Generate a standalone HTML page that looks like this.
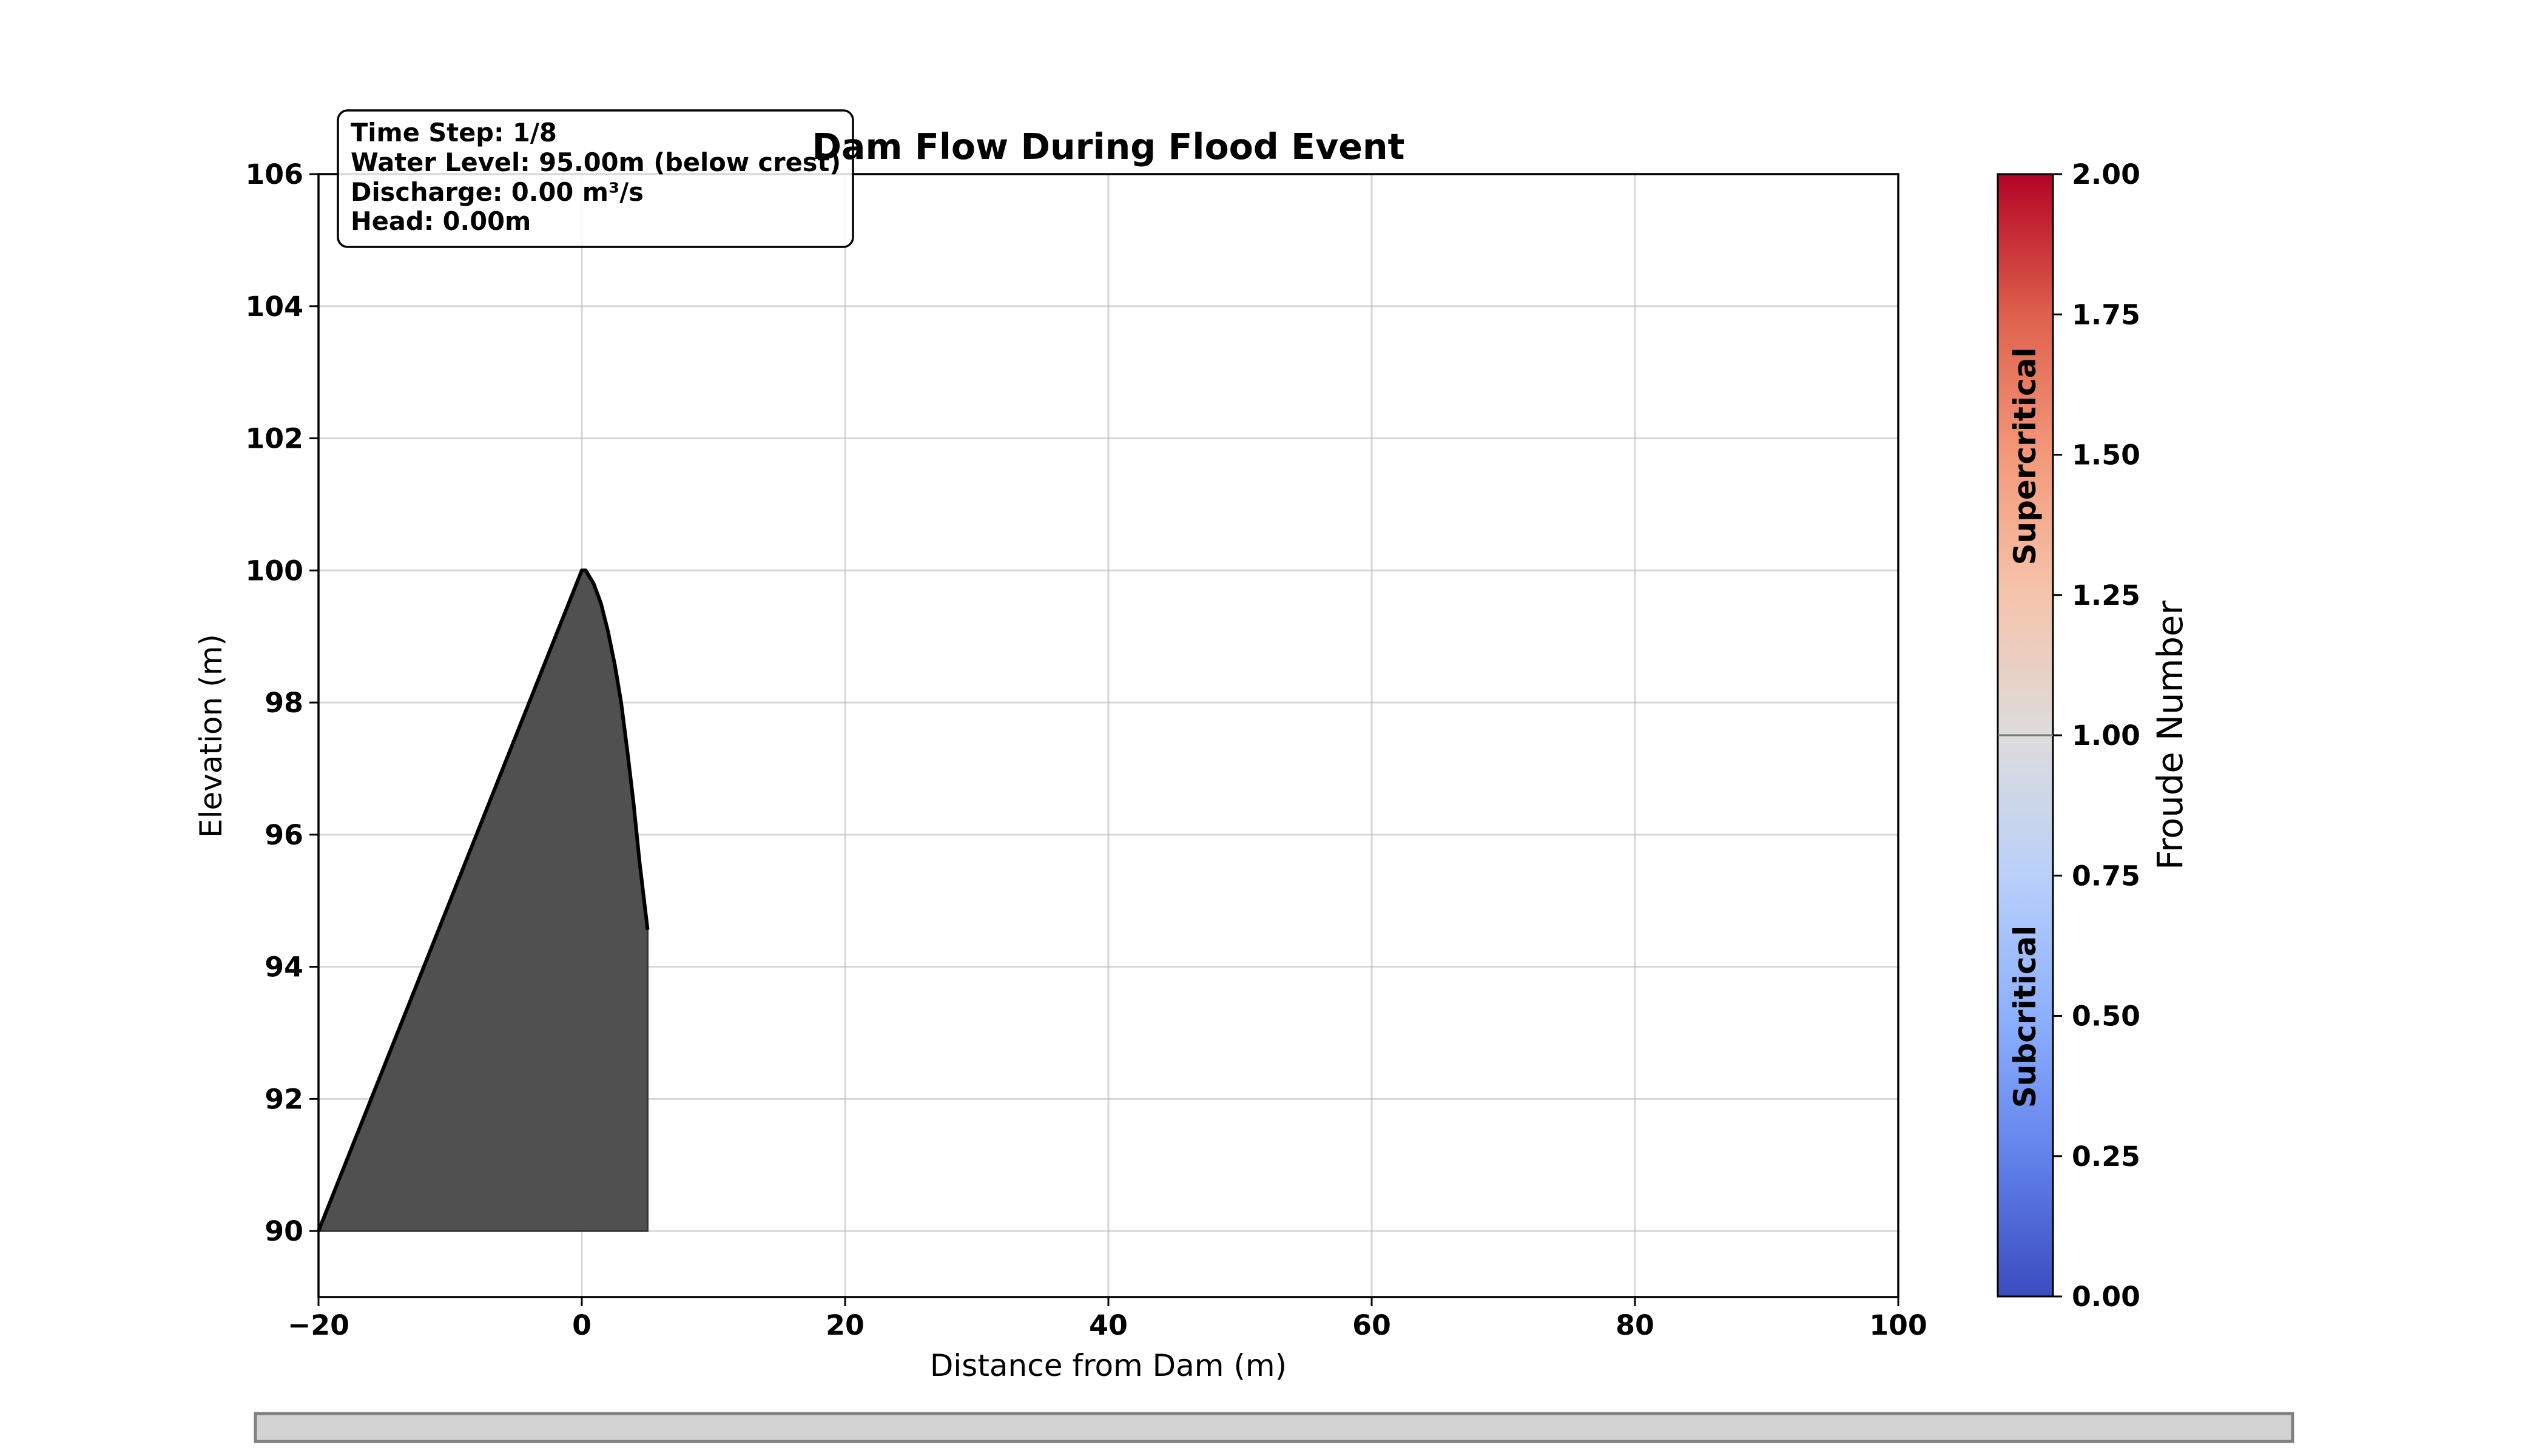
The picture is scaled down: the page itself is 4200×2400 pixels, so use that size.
<!DOCTYPE html>
<html><head><meta charset="utf-8"><style>
html,body{margin:0;padding:0;background:#fff}
svg{display:block}
text{font-family:"DejaVu Sans","Liberation Sans",sans-serif}
</style></head><body>
<svg id="chart" width="4200" height="2400" viewBox="0 0 4200 2400" xmlns="http://www.w3.org/2000/svg">
<defs>
<linearGradient id="cw" x1="0" y1="1" x2="0" y2="0">
<stop offset="0" stop-color="#3b4cc0"/><stop offset="0.125" stop-color="#6282ea"/>
<stop offset="0.25" stop-color="#8db0fe"/><stop offset="0.375" stop-color="#b9d0f9"/>
<stop offset="0.5" stop-color="#dddcdc"/><stop offset="0.625" stop-color="#f5c4ac"/>
<stop offset="0.75" stop-color="#f4987a"/><stop offset="0.875" stop-color="#de604d"/>
<stop offset="1" stop-color="#b40426"/>
</linearGradient>
</defs>
<g id="grid"></g>
<g id="marks"></g>
<g id="axes"></g>
<text x="1827" y="2268" font-size="50" text-anchor="middle">Distance from Dam (m)</text>
<text transform="translate(365,1213) rotate(-90)" font-size="50" text-anchor="middle">Elevation (m)</text>
<g>
<rect x="557" y="182" width="849" height="225" rx="16" fill="#fff" fill-opacity="0.85" stroke="#000" stroke-width="3.5"/>
<text x="578" y="233" font-size="41.5" font-weight="bold">Time Step: 1/8</text>
<text x="578" y="282" font-size="41.5" font-weight="bold">Water Level: 95.00m (below crest)</text>
<text x="578" y="331" font-size="41.5" font-weight="bold">Discharge: 0.00 m³/s</text>
<text x="578" y="379" font-size="41.5" font-weight="bold">Head: 0.00m</text>
</g>
<text x="1827" y="262" font-size="58.5" font-weight="bold" text-anchor="middle">Dam Flow During Flood Event</text>
<g>
<rect x="3293" y="287" width="91" height="1850" fill="url(#cw)" stroke="#000" stroke-width="3"/>
<line x1="3293" x2="3384" y1="1212" y2="1212" stroke="#777" stroke-width="3"/>
<text transform="translate(3355,752) rotate(-90)" font-size="50" font-weight="bold" text-anchor="middle">Supercritical</text>
<text transform="translate(3355,1676) rotate(-90)" font-size="50" font-weight="bold" text-anchor="middle">Subcritical</text>
<g id="cbticks"></g>
<text transform="translate(3597,1212) rotate(-90)" font-size="57.5" text-anchor="middle">Froude Number</text>
</g>
<rect x="421" y="2330" width="3358" height="46" fill="#d3d3d3" stroke="#808080" stroke-width="5"/>
</svg>
<script>
const xTicks = [-20, 0, 20, 40, 60, 80, 100];
const yTicks = [90, 92, 94, 96, 98, 100, 102, 104, 106];
const cbTicks = [0, 0.25, 0.5, 0.75, 1.0, 1.25, 1.5, 1.75, 2.0];
const damX = [-20, 0, 0.3, 0.9, 1.46, 2.0, 2.53, 2.99, 3.46, 3.92, 4.38, 5.0];
const damY = [90, 100, 100, 99.8, 99.5, 99.07, 98.55, 98.0, 97.27, 96.5, 95.6, 94.56];
const baseY = 90;

const L=525,R=3129,T=287,B=2138, XMIN=-20,XMAX=100,YMIN=89,YMAX=106;
const sx=v=>L+(v-XMIN)/(XMAX-XMIN)*(R-L);
const sy=v=>B-(v-YMIN)/(YMAX-YMIN)*(B-T);
const NS='http://www.w3.org/2000/svg';
function mk(tag,attrs,parent,txt){const e=document.createElementNS(NS,tag);for(const k in attrs)e.setAttribute(k,attrs[k]);if(txt!==undefined)e.textContent=txt;parent.appendChild(e);return e;}
const grid=document.getElementById('grid'),axes=document.getElementById('axes'),marks=document.getElementById('marks');
xTicks.forEach(t=>{
  const g=mk('line',{x1:sx(t),x2:sx(t),y1:T,y2:B,stroke:'#b0b0b0','stroke-opacity':0.5,'stroke-width':3},grid);
  
  
  mk('line',{x1:sx(t),x2:sx(t),y1:B,y2:B+15,stroke:'#000','stroke-width':3},axes);
  const lb=mk('text',{x:sx(t),y:B+62,'font-size':45.8,'font-weight':'bold','text-anchor':'middle'},axes,t<0?'\u2212'+(-t):String(t));
  
  
});
yTicks.forEach(t=>{
  const g=mk('line',{x1:L,x2:R,y1:sy(t),y2:sy(t),stroke:'#b0b0b0','stroke-opacity':0.5,'stroke-width':3},grid);
  
  
  mk('line',{x1:L-15,x2:L,y1:sy(t),y2:sy(t),stroke:'#000','stroke-width':3},axes);
  const lb=mk('text',{x:L-25,y:sy(t)+16,'font-size':45.8,'font-weight':'bold','text-anchor':'end'},axes,String(t));
  
  
});
mk('rect',{x:L,y:T,width:R-L,height:B-T,fill:'none',stroke:'#000','stroke-width':3.5},axes);
let pts=damX.map((x,i)=>sx(x)+','+sy(damY[i]));
pts.push(sx(damX[damX.length-1])+','+sy(baseY));
const poly=mk('polygon',{points:pts.join(' '),fill:'#505050',stroke:'#333','stroke-width':3},marks);


const pl=mk('polyline',{points:damX.map((x,i)=>sx(x)+','+sy(damY[i])).join(' '),fill:'none',stroke:'#000','stroke-width':6,'stroke-linejoin':'round'},marks);


const cb=document.getElementById('cbticks');
const cT=287,cB=2137;
cbTicks.forEach(t=>{
  const y=cB-(t/2)*(cB-cT);
  mk('line',{x1:3384,x2:3399,y1:y,y2:y,stroke:'#000','stroke-width':3},cb);
  const lb=mk('text',{x:3415,y:y+16,'font-size':45.8,'font-weight':'bold'},cb,t.toFixed(2));
  
  
});
</script>
</body></html>
